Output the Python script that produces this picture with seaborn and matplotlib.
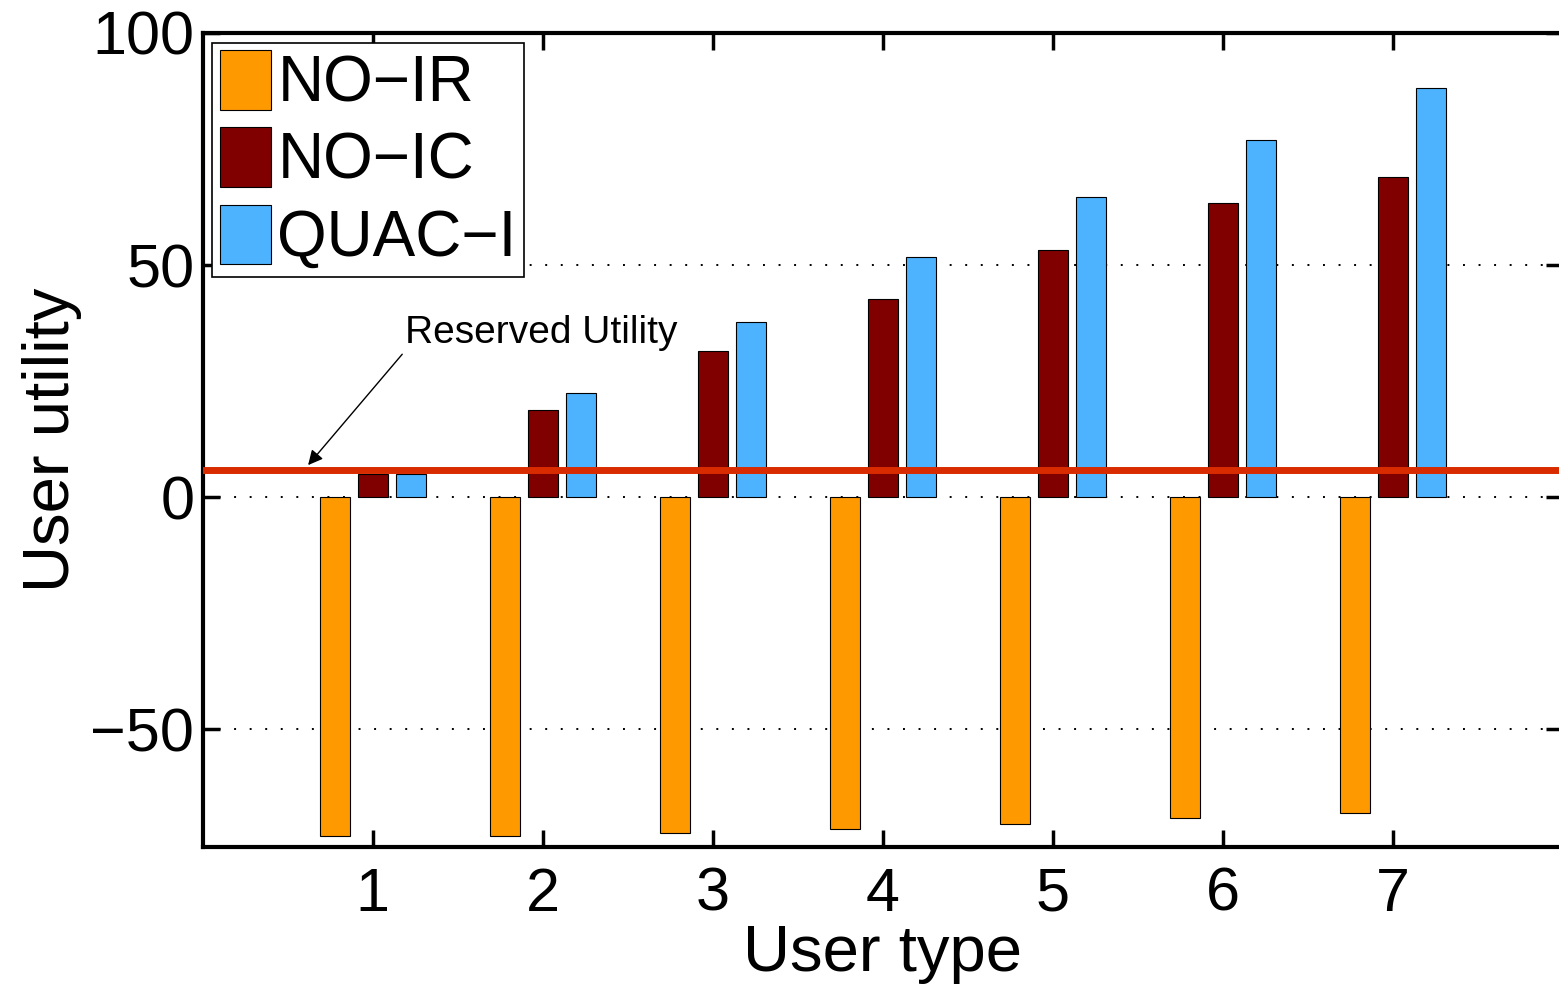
import numpy as np
import pandas as pd
import matplotlib
matplotlib.use('Agg')
import matplotlib.pyplot as plt
import seaborn as sns

# data
user_types = [1, 2, 3, 4, 5, 6, 7]
no_ir = [-73.1, -73.1, -72.4, -71.5, -70.4, -69.2, -68.1]
no_ic = [5.0, 18.8, 31.5, 42.7, 53.2, 63.4, 69.0]
quac_i = [5.0, 22.4, 37.7, 51.7, 64.7, 76.9, 88.1]
schemes = ['NO\u2212IR', 'NO\u2212IC', 'QUAC\u2212I']
reserved_utility = 5.8

colors = ['#FF9900', '#800000', '#4DB3FF']

df = pd.DataFrame({
    'User type': user_types * 3,
    'User utility': no_ir + no_ic + quac_i,
    'Scheme': [schemes[0]] * 7 + [schemes[1]] * 7 + [schemes[2]] * 7,
})

sns.set_style('white')
plt.rcParams['font.family'] = ['Liberation Sans', 'DejaVu Sans']
plt.rcParams['text.color'] = 'black'
plt.rcParams['axes.labelcolor'] = 'black'
plt.rcParams['xtick.color'] = 'black'
plt.rcParams['ytick.color'] = 'black'

fig = plt.figure(figsize=(15.59, 9.85), dpi=100)
ax = fig.add_axes([0.130, 0.140, 0.8726, 0.8265])

# dotted grid first so bars sit on top
for yv in [-50, 0, 50]:
    ax.axhline(yv, color='black', linestyle=(0, (1, 7)), linewidth=1.4, zorder=0)

sns.barplot(data=df, x='User type', y='User utility', hue='Scheme',
            palette=colors, saturation=1, native_scale=True, width=0.672, gap=0.214,
            edgecolor='black', linewidth=0.8, ax=ax, zorder=2)

ax.axhline(reserved_utility, color='#D92B00', linewidth=5, zorder=3)

ax.annotate('Reserved Utility', xy=(0.62, 6.9), xytext=(1.19, 31.5),
            fontsize=28, ha='left', va='bottom',
            arrowprops=dict(arrowstyle='-|>', color='black', lw=1,
                            mutation_scale=22, shrinkA=0, shrinkB=0,
                            relpos=(0, 0)))

ax.set_xlim(0, 8)
ax.set_ylim(-75.4, 100)
ax.set_xticks(user_types)
ax.set_yticks([-50, 0, 50, 100])
ax.set_yticklabels(['\u221250', '0', '50', '100'])
ax.tick_params(direction='in', length=12, width=2.5, labelsize=44,
               top=True, right=True, left=True, bottom=True)
ax.tick_params(axis='x', pad=14)
ax.tick_params(axis='y', pad=6)
for s in ax.spines.values():
    s.set_linewidth(3)
    s.set_color('black')

ax.set_xlabel('User type', fontsize=47, labelpad=0)
ax.set_ylabel('User utility', fontsize=47, labelpad=6)

ax.legend(loc='upper left', fontsize=46, handlelength=0.8, handleheight=1.05,
          handletextpad=0.1, labelspacing=0.2, borderpad=0.12,
          borderaxespad=0.15, fancybox=False, edgecolor='black', framealpha=1)
ax.get_legend().get_frame().set_linewidth(1.2)

fig.savefig('out.png', dpi=100)
